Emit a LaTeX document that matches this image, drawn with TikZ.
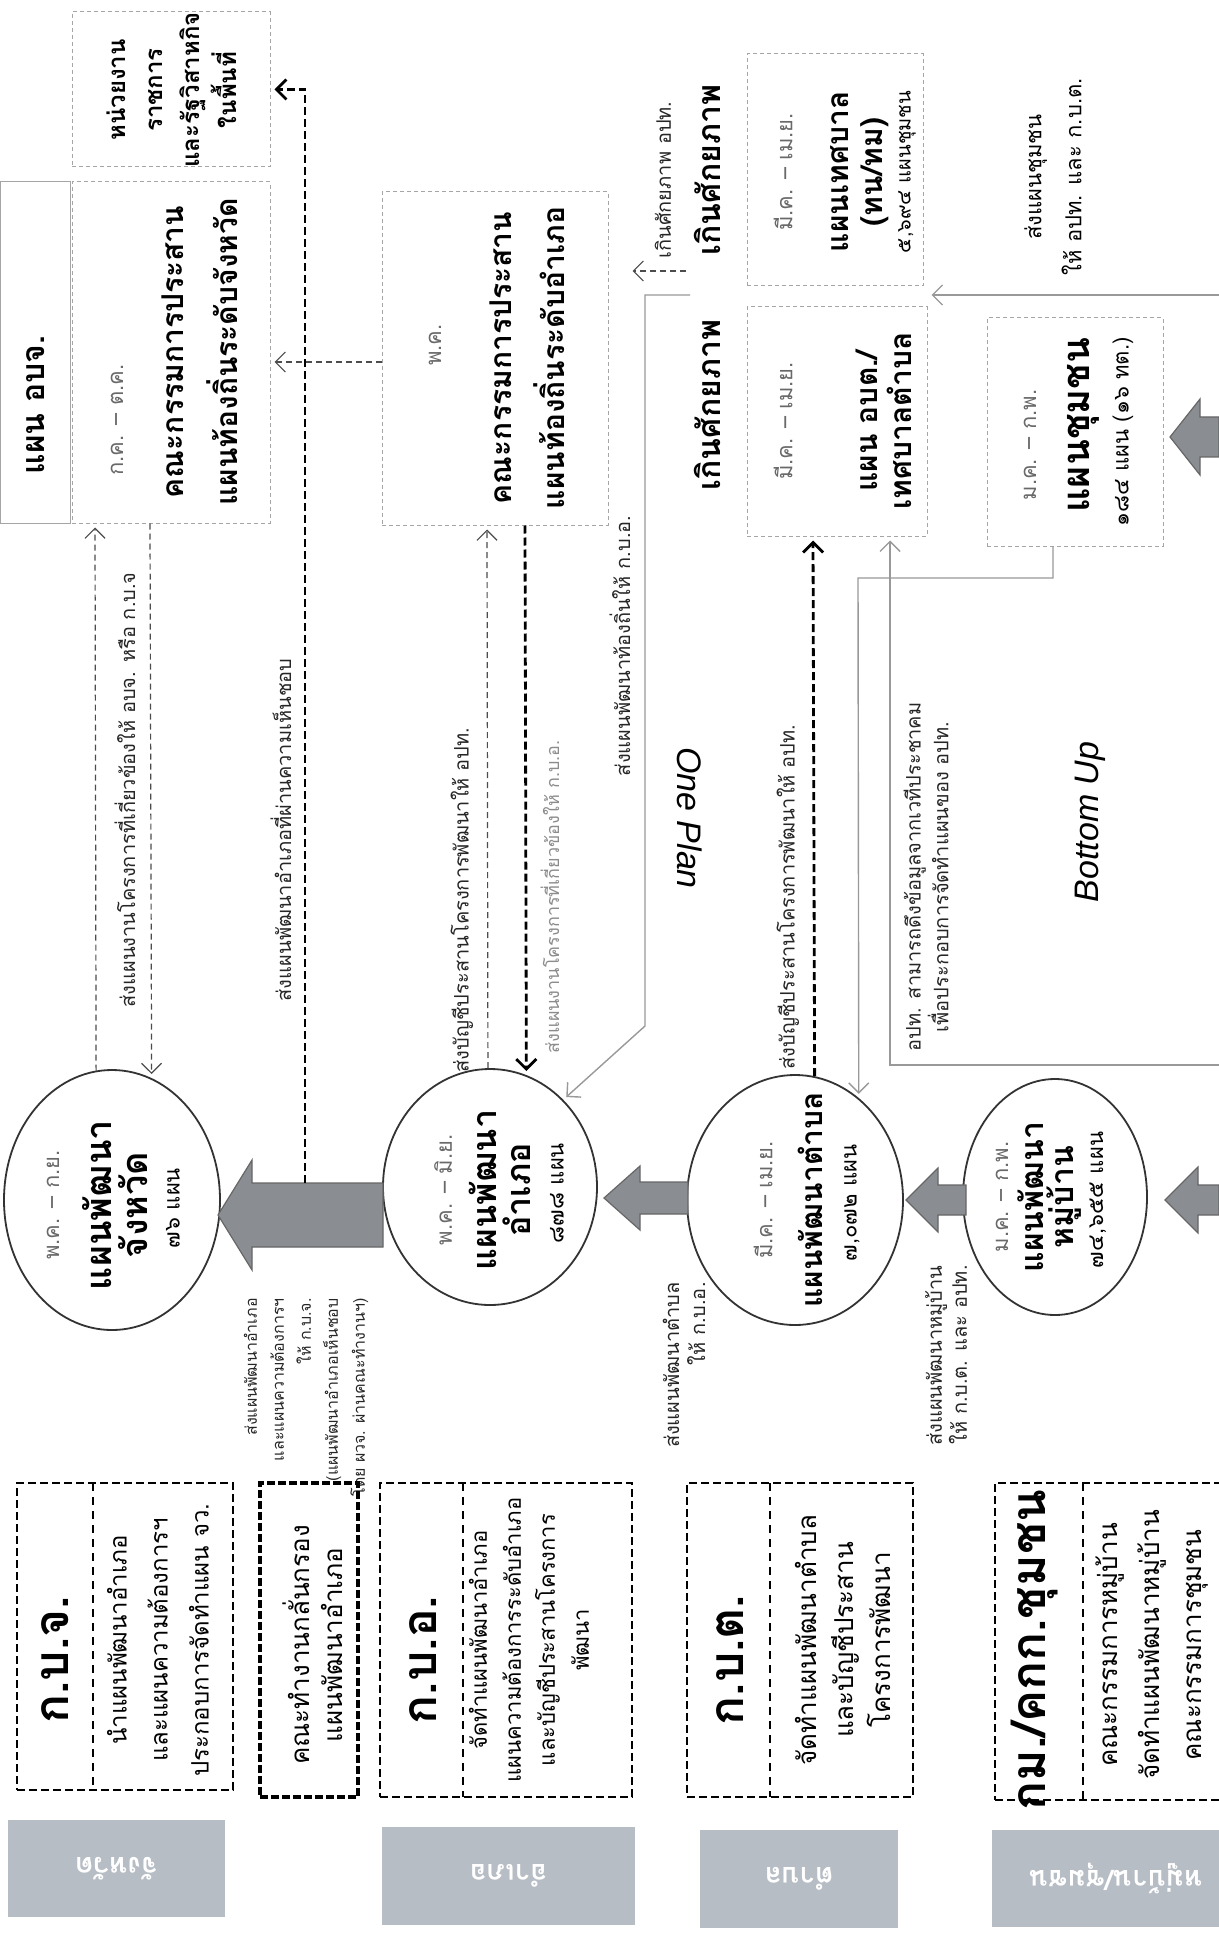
\documentclass[tikz,border=0pt]{standalone}
\usepackage{fontspec}
\newfontfamily\thai[Script=Thai]{Loma}
\newfontfamily\lat{Liberation Sans}
\usetikzlibrary{shapes.geometric,arrows.meta,fit}
\newcommand{\setfs}[2]{\fontsize{#1}{#2}\selectfont}
\definecolor{labgrey}{RGB}{183,189,197}
\definecolor{arrowfill}{RGB}{138,142,146}
\definecolor{lightline}{RGB}{165,165,165}
\definecolor{datecol}{RGB}{105,105,105}
\begin{document}
\begin{tikzpicture}[x=0.5pt,y=-0.5pt,
  tx/.style={rotate=90,inner sep=0pt,align=center},
  hd/.style 2 args={tx,font=\thai\bfseries\setfs{#1}{#2}},
  rg/.style 2 args={tx,font=\thai\setfs{#1}{#2}},
  dt/.style={tx,text=datecol,font=\thai\setfs{11}{13}},
  lb/.style={tx,text=black!85,font=\thai\setfs{10}{12}},
  eng/.style={inner sep=0pt,font=\lat\itshape\setfs{17}{20}},
  box/.style={draw=lightline,dash pattern=on 2pt off 1.5pt,line width=0.5pt,inner sep=0pt},
  cell/.style={draw=lightline,line width=0.5pt,inner sep=0pt},
  combox/.style={draw=black,dash pattern=on 4pt off 2pt,line width=1.1pt,inner sep=0pt},
  heavybox/.style={draw=black,dash pattern=on 4pt off 1.5pt,line width=2.2pt,inner sep=0pt},
  divider/.style={draw=black,dash pattern=on 4pt off 3pt,line width=0.6pt},
  labbox/.style={fill=labgrey,inner sep=0pt},
  labtxt/.style={rotate=180,inner sep=0pt,text=white,font=\thai\bfseries\setfs{14}{17}},
  plan/.style={ellipse,draw=black!80,line width=0.9pt,inner sep=0pt},
  tipa/.style={-{Straight Barb[length=5pt,width=10pt]}},
  thinarr/.style={tipa,draw=black!70,dash pattern=on 3pt off 2pt,line width=0.6pt,shorten >=2pt},
  thickarr/.style={tipa,draw=black,dash pattern=on 4pt off 2pt,line width=1.4pt,shorten >=2pt},
  greyarr/.style={tipa,draw=black!40,line width=0.7pt,shorten >=2pt},
  bigarrow/.style={fill=arrowfill,draw=black!60,line width=0.6pt}
]
\fill[white] (0,0) rectangle (1219,1936);
\useasboundingbox (0,0) rectangle (1219,1936);

% ---------- top boxes ----------
\node[box,fit={(72,12)(270,167)}] (U) {};
\node[hd={12}{18.5}] (Ut) at (172,90) {หน่วยงาน\\ราชการ\\และรัฐวิสาหกิจ\\ในพื้นที่};

\node[cell,fit={(0,182)(70,523)}] (CA) {};
\node[hd={16}{18}] (CAt) at (36,405) {แผน อบจ.};
\node[box,fit={(72,182)(270,523)}] (T1) {};
\node[dt] (T1d) at (117,420) {ก.ค. – ต.ค.};
\node[hd={15}{27}] (T1t) at (200,352) {คณะกรรมการประสาน\\แผนท้องถิ่นระดับจังหวัด};

\node[box,fit={(382,192)(608,525)}] (T2) {};
\node[dt] (T2d) at (435,345) {พ.ค.};
\node[hd={15}{26.5}] (T2t) at (527,358) {คณะกรรมการประสาน\\แผนท้องถิ่นระดับอำเภอ};

\node[lb] (ex0) at (663,180) {เกินศักยภาพ อปท.};
\node[hd={16}{18}] (ex1) at (707,170) {เกินศักยภาพ};
\node[box,fit={(747,54)(923,286)}] (T3a) {};
\node[dt] (T3ad) at (783,172) {มี.ค. – เม.ย.};
\node[hd={15}{17}] (T3at) at (860,172) {แผนเทศบาล\\(ทน/ทม)};
\node[rg={10}{12}] (T3an) at (907,172) {๕,๖๙๔ แผนชุมชน};

\node[hd={16}{18}] (ex2) at (707,405) {เกินศักยภาพ};
\node[box,fit={(747,307)(927,536)}] (T3b) {};
\node[dt] (T3bd) at (783,421) {มี.ค. – เม.ย.};
\node[hd={15}{17}] (T3bt) at (884,421) {แผน อบต./\\เทศบาลตำบล};

\node[rg={11}{20}] (sendc) at (1053,177) {ส่งแผนชุมชน\\ให้ อปท. และ ก.บ.ต.};
\node[box,fit={(987,318)(1163,546)}] (T4) {};
\node[dt] (T4d) at (1030,445) {ม.ค. – ก.พ.};
\node[hd={19}{21}] (T4t) at (1083,425) {แผนชุมชน};
\node[rg={11}{13}] (T4n) at (1123,432) {๑๘๔ แผน (๑๖ ทต.)};

% ---------- plan circles ----------
\node[plan,minimum width=108pt,minimum height=130pt] (C1) at (112,1200) {};
\node[dt] (C1d) at (53,1205) {พ.ค. – ก.ย.};
\node[hd={18}{18}] (C1t) at (115,1205) {แผนพัฒนา\\จังหวัด};
\node[rg={11}{13}] (C1n) at (173,1208) {๗๖ แผน};

\node[plan,minimum width=107pt,minimum height=118pt] (C2) at (490,1187) {};
\node[dt] (C2d) at (443,1190) {พ.ค. – มิ.ย.};
\node[hd={17}{17}] (C2t) at (500,1190) {แผนพัฒนา\\อำเภอ};
\node[rg={11}{13}] (C2n) at (557,1193) {๘๗๘ แผน};

\node[plan,minimum width=108pt,minimum height=125pt] (C3) at (795,1200) {};
\node[dt] (C3d) at (763,1200) {มี.ค. – เม.ย.};
\node[hd={15}{17}] (C3t) at (810,1200) {แผนพัฒนาตำบล};
\node[rg={11}{13}] (C3n) at (852,1203) {๗,๐๗๒ แผน};

\node[plan,minimum width=92pt,minimum height=118pt] (C4) at (1055,1197) {};
\node[dt] (C4d) at (1002,1197) {ม.ค. – ก.พ.};
\node[hd={16}{15}] (C4t) at (1050,1197) {แผนพัฒนา\\หมู่บ้าน};
\node[rg={11}{13}] (C4n) at (1098,1200) {๗๔,๖๕๕ แผน};

% ---------- big arrows ----------
\filldraw[bigarrow] (218,1215) -- (252,1160) -- (252,1183) -- (383,1183) -- (383,1247) -- (252,1247) -- (252,1270) -- cycle;
\filldraw[bigarrow] (604,1198) -- (640,1166) -- (640,1182) -- (688,1182) -- (688,1214) -- (640,1214) -- (640,1230) -- cycle;
\filldraw[bigarrow] (906,1200) -- (938,1168) -- (938,1185) -- (966,1185) -- (966,1215) -- (938,1215) -- (938,1232) -- cycle;
\filldraw[bigarrow] (1165,1200) -- (1198,1167) -- (1198,1185) -- (1219,1185) -- (1219,1215) -- (1198,1215) -- (1198,1233) -- cycle;
\filldraw[bigarrow] (1170,437) -- (1200,399) -- (1200,417) -- (1219,417) -- (1219,457) -- (1200,457) -- (1200,475) -- cycle;

% ---------- arrow labels ----------
\node[rotate=90,inner sep=0pt,align=right,anchor=east,text=black!85,font=\thai\setfs{8}{13.5}] (la1) at (306,1298) {ส่งแผนพัฒนาอำเภอ\\และแผนความต้องการฯ\\ให้ ก.บ.จ.\\(แผนพัฒนาอำเภอเห็นชอบ\\โดย ผวจ. ผ่านคณะทำงานฯ)};
\node[rotate=90,inner sep=0pt,align=right,anchor=east,text=black!85,font=\thai\setfs{10}{13}] (la2) at (684,1282) {ส่งแผนพัฒนาตำบล\\ให้ ก.บ.อ.};
\node[rotate=90,inner sep=0pt,align=right,anchor=east,text=black!85,font=\thai\setfs{10}{12.5}] (la3) at (946,1265) {ส่งแผนพัฒนาหมู่บ้าน\\ให้ ก.บ.ต. และ อปท.};

% ---------- connector labels ----------
\node[lb] (l1) at (125,790) {ส่งแผนงานโครงการที่เกี่ยวข้องให้ อบจ. หรือ ก.บ.จ};
\node[lb] (l2) at (281,830) {ส่งแผนพัฒนาอำเภอที่ผ่านความเห็นชอบ};
\node[lb] (l3) at (462,900) {ส่งบัญชีประสานโครงการพัฒนาให้ อปท.};
\node[tx,text=black!45,font=\thai\setfs{9}{11}] (l4) at (550,897) {ส่งแผนงานโครงการที่เกี่ยวข้องให้ ก.บ.อ.};
\node[lb] (l5) at (620,646) {ส่งแผนพัฒนาท้องถิ่นให้ ก.บ.อ.};
\node[eng,rotate=-90] (oneplan) at (690,818) {One Plan};
\node[lb] (l6) at (788,897) {ส่งบัญชีประสานโครงการพัฒนาให้ อปท.};
\node[tx,text=black!85,font=\thai\setfs{10}{11}] (l7) at (926,877) {อปท. สามารถดึงข้อมูลจากเวทีประชาคม\\เพื่อประกอบการจัดทำแผนของ อปท.};
\node[eng,rotate=90] (bottomup) at (1090,822) {Bottom Up};

% ---------- committee boxes ----------
\node[combox,fit={(17,1483)(233,1790)}] (K1) {};
\draw[divider] (93,1483) -- (93,1790);
\node[hd={24}{26}] (K1t) at (55,1660) {ก.บ.จ.};
\node[rg={12}{20.5}] (K1d) at (158,1640) {นำแผนพัฒนาอำเภอ\\และแผนความต้องการฯ\\ประกอบการจัดทำแผน จว.};

\node[heavybox,fit={(260,1483)(358,1797)}] (K1b) {};
\node[rg={13}{16.5}] (K1bt) at (313,1645) {คณะทำงานกลั่นกรอง\\แผนพัฒนาอำเภอ};

\node[combox,fit={(380,1483)(632,1797)}] (K2) {};
\draw[divider] (463,1483) -- (463,1797);
\node[hd={24}{26}] (K2t) at (423,1660) {ก.บ.อ.};
\node[rg={11}{17}] (K2d) at (529,1640) {จัดทำแผนพัฒนาอำเภอ\\แผนความต้องการระดับอำเภอ\\และบัญชีประสานโครงการ\\พัฒนา};

\node[combox,fit={(687,1483)(913,1797)}] (K3) {};
\draw[divider] (770,1483) -- (770,1797);
\node[hd={24}{26}] (K3t) at (730,1660) {ก.บ.ต.};
\node[rg={13}{18.5}] (K3d) at (843,1640) {จัดทำแผนพัฒนาตำบล\\และบัญชีประสาน\\โครงการพัฒนา};

\node[combox,fit={(995,1483)(1232,1800)}] (K4) {};
\draw[divider] (1083,1483) -- (1083,1800);
\node[hd={24}{26}] (K4t) at (1035,1650) {กม./คกก.ชุมชน};
\node[rg={13}{21}] (K4d) at (1152,1645) {คณะกรรมการหมู่บ้าน\\จัดทำแผนพัฒนาหมู่บ้าน\\คณะกรรมการชุมชน};

% ---------- level labels ----------
\node[labbox,fit={(8,1820)(225,1917)}] (G1) {};
\node[labtxt] (G1t) at (G1.center) {จังหวัด};
\node[labbox,fit={(382,1827)(635,1925)}] (G2) {};
\node[labtxt] (G2t) at (G2.center) {อำเภอ};
\node[labbox,fit={(700,1830)(898,1928)}] (G3) {};
\node[labtxt] (G3t) at (G3.center) {ตำบล};
\node[labbox,fit={(992,1830)(1240,1927)}] (G4) {};
\node[labtxt] (G4t) at (G4.center) {หมู่บ้าน/ชุมชน};

% ---------- connectors ----------
\coordinate (a1top) at (305,1183);
\coordinate (r362) at (0,362);
\coordinate (x95) at (95,0);
\coordinate (x150) at (150,0);
\coordinate (x487) at (487,0);
\coordinate (x525) at (525,0);
\coordinate (x813) at (813,0);
\coordinate (x1053) at (1053,0);
\coordinate (g1) at (1053,578);
\coordinate (g2) at (858,578);
\coordinate (e1) at (1219,1065);
\coordinate (e1b) at (890,1065);
\coordinate (e2) at (1219,295);
\coordinate (op1) at (690,295);
\coordinate (op2) at (645,295);
\coordinate (op3) at (645,1026);
\coordinate (exa) at (686,271);

\draw[thickarr] (a1top) -- (a1top |- U.east) -- (U.east);
\draw[thinarr] (T2.west |- r362) -- (T1.east |- r362);
\draw[thinarr] (C1.97.5) -- (x95 |- T1.south);
\draw[thinarr] (x150 |- T1.south) -- (C1.72.7);
\draw[thinarr] (C2.91.5) -- (x487 |- T2.south);
\draw[thickarr] (x525 |- T2.south) -- (C2.72.6);
\draw[greyarr] (op1) -- (op2) -- (op3) -- (C2.50);
\draw[thinarr,shorten >=12pt] (exa) -- (T2.east |- exa);
\draw[thickarr] (C3.81.7) -- (x813 |- T3b.south);
\draw[greyarr] (x1053 |- T4.south) -- (g1) -- (g2) -- (C3.58.2);
\draw[greyarr] (e1) -- (e1b) -- (e1b |- T3b.south);
\draw[greyarr] (e2) -- (T3b.east |- e2);
\end{tikzpicture}
\end{document}
